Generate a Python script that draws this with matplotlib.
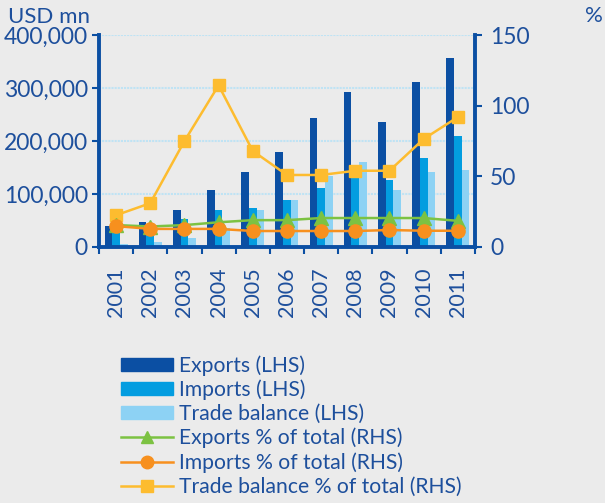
import numpy as np
import matplotlib
matplotlib.use("Agg")
import matplotlib.pyplot as plt
from matplotlib.lines import Line2D
from matplotlib.patches import Patch

years = ['2001', '2002', '2003', '2004', '2005', '2006',
         '2007', '2008', '2009', '2010', '2011']

# USD mn (LHS)
exports = [40000, 47000, 70000, 107500, 141500, 179000,
           243000, 292000, 236000, 311000, 357000]
imports = [35000, 38000, 52000, 70000, 74000, 89000,
           111000, 130000, 126000, 168000, 209000]
trade_balance = [5000, 9500, 17500, 35000, 70000, 89000,
                 134000, 160000, 108000, 141500, 145000]

# % of total (RHS)
exports_pct = [15.5, 14.5, 15.5, 17.5, 19.0, 19.0, 20.5, 20.5, 20.5, 20.5, 18.5]
imports_pct = [14.8, 12.8, 12.8, 12.8, 11.3, 11.3, 11.3, 11.3, 12.0, 11.5, 11.5]
trade_pct = [22.5, 31.0, 75.0, 114.5, 68.0, 51.0, 51.0, 54.0, 54.0, 76.5, 92.0]

bg = '#ebebeb'
txt = '#1d4f9c'
c_exp = '#0b4fa3'
c_imp = '#039de0'
c_tb = '#8dd2f4'
c_g = '#7cc242'
c_o = '#f7901e'
c_y = '#fdbc2f'

plt.rcParams['font.family'] = ['Lato', 'DejaVu Sans']

fig = plt.figure(figsize=(6.05, 5.03), dpi=100, facecolor=bg)
ax = fig.add_axes([0.1636, 0.509, 0.6214, 0.421])
ax.set_facecolor(bg)

x = np.arange(len(years))
w = 0.225
ax.bar(x - w, exports, w, color=c_exp, zorder=2)
ax.bar(x, imports, w, color=c_imp, zorder=2)
ax.bar(x + w, trade_balance, w, color=c_tb, zorder=2)

ax.set_xlim(-0.5, len(years) - 0.5)
ax.set_ylim(0, 400000)
ax.set_yticks([0, 100000, 200000, 300000, 400000])
ax.set_yticklabels(['0', '100,000', '200,000', '300,000', '400,000'])
ax.yaxis.grid(True, color='#bfe3f4', lw=1.5, ls=(0, (1, 0.5)), zorder=0)
ax.set_axisbelow(True)

# ticks at category edges, labels at centres
ax.set_xticks(np.arange(len(years) + 1) - 0.5, minor=False)
ax.set_xticklabels([])
ax.set_xticks(x, minor=True)
ax.set_xticklabels(years, minor=True, rotation=90, fontsize=15.5, color=txt)
ax.tick_params(axis='x', which='minor', length=0, pad=15)
ax.tick_params(axis='x', which='major', length=5, width=1.5, color=c_exp)
ax.tick_params(axis='y', length=5, width=1.5, color=c_exp, labelsize=16.5,
               labelcolor=txt, pad=3)

for side in ['top', 'right']:
    ax.spines[side].set_visible(False)
for side in ['left', 'bottom']:
    ax.spines[side].set_color(c_exp)
    ax.spines[side].set_linewidth(2.8)

ax2 = ax.twinx()
ax2.set_ylim(0, 150)
ax2.set_yticks([0, 50, 100, 150])
ax2.tick_params(axis='y', length=5, width=1.5, color=c_exp, labelsize=16.5,
                labelcolor=txt, pad=6)
for side in ['top', 'left', 'bottom']:
    ax2.spines[side].set_visible(False)
ax2.spines['right'].set_color(c_exp)
ax2.spines['right'].set_linewidth(2.8)

ax2.plot(x, trade_pct, color=c_y, lw=1.8, marker='s', ms=8.5, zorder=3)
ax2.plot(x, exports_pct, color=c_g, lw=1.8, marker='^', ms=10, zorder=4)
ax2.plot(x, imports_pct, color=c_o, lw=1.8, marker='o', ms=9.5, zorder=5)

fig.text(0.013, 0.966, 'USD mn', fontsize=16, color=txt, va='center', ha='left')
fig.text(0.997, 0.968, '%', fontsize=16, color=txt, va='center', ha='right')

handles = [
    Patch(color=c_exp),
    Patch(color=c_imp),
    Patch(color=c_tb),
    Line2D([], [], color=c_g, lw=1.8, marker='^', ms=9),
    Line2D([], [], color=c_o, lw=1.8, marker='o', ms=9),
    Line2D([], [], color=c_y, lw=1.8, marker='s', ms=8),
]
labels = ['Exports (LHS)', 'Imports (LHS)', 'Trade balance (LHS)',
          'Exports % of total (RHS)', 'Imports % of total (RHS)',
          'Trade balance % of total (RHS)']
leg = fig.legend(handles, labels, loc='upper left', bbox_to_anchor=(0.2, 0.294),
                 frameon=False, fontsize=15.2, handlelength=2.45, handletextpad=0.3,
                 handleheight=0.55, labelspacing=0.18, borderaxespad=0, borderpad=0)
for t in leg.get_texts():
    t.set_color(txt)

fig.savefig('out.png', dpi=100, facecolor=bg)
